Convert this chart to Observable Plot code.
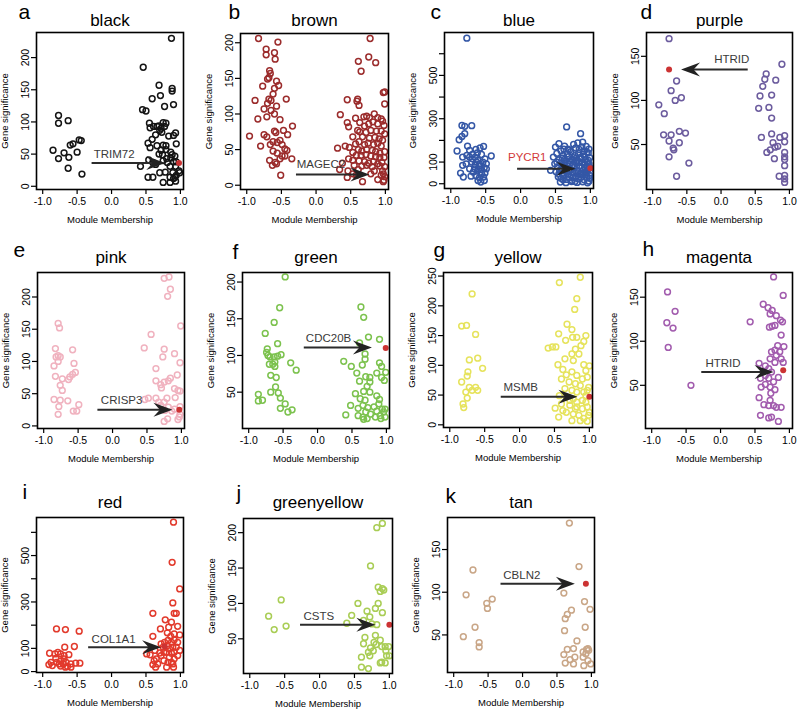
<!DOCTYPE html>
<html><head><meta charset="utf-8">
<script src="https://cdn.jsdelivr.net/npm/d3@7"></script>
<script src="https://cdn.jsdelivr.net/npm/@observablehq/plot@0.6"></script>
<style>
html,body{margin:0;padding:0;background:#fff;}
#chart{position:relative;width:800px;height:711px;overflow:hidden;background:#fff;}
#chart svg{position:absolute;overflow:visible;}
</style></head>
<body><div id="chart"></div>
<script>
// ---------- DATA ----------
const modules = ["black","brown","blue","purple","pink","green","yellow","magenta","red","greenyellow","tan"];
const letters = ["a","b","c","d","e","f","g","h","i","j","k"];
const hubGenes = ["TRIM72","MAGEC2","PYCR1","HTRID","CRISP3","CDC20B","MSMB","HTRID","COL1A1","CSTS","CBLN2"];
const xTicks = [-1, -0.5, 0, 0.5, 1];
const yTicksList = [
  [0,50,100,150,200],[0,50,100,150,200],[0,100,200,300,400,500,600],[50,100,150],
  [0,50,100,150,200],[50,100,150,200],[0,50,100,150,200,250],[50,100,150],
  [0,100,200,300,400,500,600],[50,100,150,200],[50,100,150]
];
const yTickHidden = [[],[],[200,400,600],[],[],[],[],[],[200,400,600],[],[]];
// hub gene (highlighted point): [MM, GS]
const hubPoints = [[0.98,36],null,[1.0,72],[-0.76,135],[0.97,25],[0.99,110],[1.0,47],[0.91,67],[0.77,108],[1.0,70],[0.92,110]];
// arrow from / to (x) at y, label position
const arrowFrom = [-0.29,-0.29,-0.05,0.39,-0.22,-0.20,-0.27,-0.28,-0.34,-0.28,-0.32];
const arrowTo   = [0.78,0.77,0.79,-0.585,0.87,0.79,0.83,0.77,0.72,0.80,0.76];
const arrowY    = [36,15,69,135,25,111,47,65,105,70,110];
const labelX    = [-0.26,-0.28,-0.18,-0.10,-0.17,-0.17,-0.23,-0.22,-0.29,-0.23,-0.28];
const labelY    = [50,30,120,147,40,123,63,75,141,82,120];

const blackPts = [[-0.77,110],[-0.77,98],[-0.63,102],[-0.85,56],[-0.77,43],[-0.69,52],[-0.62,45],[-0.63,28],[-0.60,64],[-0.56,66],[-0.50,53],[-0.47,72],[-0.44,71],[-0.43,19],
[0.87,230],[0.46,185],[0.69,157],[0.88,152],[0.88,148],[0.71,141],[0.59,136],[0.90,127],[0.77,124],[0.45,119],[0.50,117],[0.55,98],[0.75,99],[0.79,98],[0.61,93],[0.66,93],[0.69,94],[0.72,90],[0.77,93],[0.56,91],[0.70,87],[0.73,84],[0.83,78],[0.90,79],[0.93,83],[0.64,80],[0.59,73],[0.53,67],[0.94,66],[0.66,63],[0.75,64],[0.79,63],[0.56,60],[0.72,56],[0.79,57],[0.86,53],[0.69,50],[0.74,49],[0.88,49],[0.92,47],[0.80,43],[0.86,44],[0.75,40],[0.81,37],[0.90,38],[0.94,38],[0.54,41],[0.60,37],[0.64,34],[0.42,31],[0.85,31],[0.93,31],[0.98,24],[0.99,21],[0.70,21],[0.78,22],[0.89,21],[0.94,17],[0.53,14],[0.60,14],[0.85,14],[0.90,12],[0.92,14],[0.75,6],[0.85,6],[0.93,8]];

const brownPts = [[-0.83,206],[-0.55,201],[-0.72,191],[-0.60,186],[-0.72,183],[-0.59,177],[-0.67,161],[-0.66,157],[-0.68,151],[-0.70,149],[-0.57,146],[-0.54,140],[-0.77,139],[-0.60,136],[-0.62,128],[-0.43,121],[-0.88,119],[-0.68,121],[-0.65,119],[-0.70,115],[-0.75,107],[-0.57,111],[-0.65,105],[-0.60,100],[-0.71,96],[-0.52,92],[-0.84,93],[-0.34,83],[-0.60,76],[-0.47,77],[-0.58,74],[-0.75,71],[-0.71,68],[-0.96,69],[-0.41,71],[-0.52,63],[-0.56,60],[-0.62,61],[-0.49,57],[-0.66,57],[-0.80,55],[-0.45,51],[-0.42,49],[-0.62,48],[-0.56,45],[-0.45,41],[-0.49,41],[-0.52,37],[-0.35,37],[-0.67,35],[-0.59,32],[-0.63,28],[-0.57,30],[-0.51,14],
[0.78,206],[0.76,180],[0.61,174],[0.86,172],[0.65,160],[0.99,131],[0.97,130],[0.99,114],[0.45,120],[0.60,121],[0.59,118],[0.62,112],[0.35,99],[0.45,88],[0.57,94],[0.69,96],[0.73,97],[0.77,95],[0.84,100],[0.89,95],[0.94,93],[0.96,90],[0.63,88],[0.70,83],[0.76,86],[0.47,82],[0.82,89],[0.89,86],[0.98,84],[0.60,77],[0.63,75],[0.72,74],[0.79,77],[0.87,76],[0.94,76],[0.99,72],[0.53,68],[0.67,68],[0.77,66],[0.85,67],[0.91,65],[0.96,63],[0.57,58],[0.62,61],[0.70,57],[0.75,59],[0.83,57],[0.89,59],[0.94,55],[0.42,55],[0.48,53],[0.61,50],[0.66,48],[0.73,50],[0.81,49],[0.86,47],[0.92,45],[0.99,47],[0.31,52],[0.53,46],[0.58,42],[0.65,42],[0.72,43],[0.79,41],[0.86,40],[0.92,39],[0.98,39],[0.47,37],[0.53,35],[0.62,34],[0.70,33],[0.76,31],[0.83,33],[0.89,30],[0.95,32],[0.38,31],[0.55,28],[0.66,27],[0.73,28],[0.81,26],[0.92,27],[0.99,26],[0.34,22],[0.46,20],[0.61,22],[0.84,20],[0.96,20],[0.97,16],[0.99,12],[0.94,14],[0.98,7],[0.97,5],[0.89,8],[0.67,5],[0.45,11],[0.58,14],[0.79,16],[0.53,16]];

const bluePts = [[-0.77,672],[-0.84,269],[-0.80,265],[-0.70,268],[-0.88,203],[-0.84,218],[-0.80,231],[-0.91,151],[-0.76,174],[-0.83,123],[-0.77,131],[-0.73,154],[-0.64,158],[-0.58,165],[-0.53,172],[-0.69,135],[-0.62,142],[-0.56,135],[-0.42,128],[-0.51,115],[-0.61,108],[-0.70,100],[-0.78,92],[-0.83,85],[-0.65,88],[-0.58,82],[-0.52,74],[-0.73,69],[-0.86,49],[-0.68,54],[-0.62,58],[-0.56,46],[-0.51,49],[-0.82,31],[-0.71,35],[-0.59,28],[-0.53,31],[-0.57,8],[-0.65,123],[-0.63,100],[-0.69,115],[-0.59,92],[-0.54,100],[-0.73,123],[-0.66,69],[-0.60,69],[-0.56,66],[-0.49,69],[-0.49,92],[-0.64,38],[-0.52,15],[-0.61,15],
[0.66,262],[0.86,231],[0.50,169],[0.55,185],[0.63,174],[0.76,182],[0.82,188],[0.89,192],[0.94,172],[0.47,123],[0.43,62],[0.52,140],[0.58,152],[0.61,131],[0.68,160],[0.72,148],[0.79,165],[0.84,158],[0.91,150],[0.97,142],[0.99,120],[0.55,110],[0.60,118],[0.64,102],[0.69,125],[0.74,112],[0.78,130],[0.81,108],[0.86,122],[0.90,135],[0.93,110],[0.96,98],[0.49,92],[0.53,78],[0.57,95],[0.62,85],[0.66,72],[0.70,92],[0.75,88],[0.80,95],[0.84,82],[0.88,98],[0.92,88],[0.95,80],[0.98,92],[0.51,55],[0.56,62],[0.60,48],[0.64,58],[0.68,45],[0.72,65],[0.77,52],[0.82,60],[0.86,48],[0.90,62],[0.94,55],[0.97,68],[1.00,50],[0.54,32],[0.58,25],[0.62,38],[0.66,20],[0.70,30],[0.74,15],[0.79,35],[0.83,22],[0.87,30],[0.91,18],[0.95,28],[0.98,12],[0.57,8],[0.65,5],[0.73,10],[0.81,6],[0.89,9],[0.96,4],[0.99,25],[0.93,40],[0.85,42],[0.77,75],[0.71,105],[0.67,138],[0.59,70],[0.63,112],[0.76,120],[0.88,75],[0.92,125],[0.97,108],[0.99,75],[0.95,145],[0.83,140],[0.73,40],[0.61,18],[0.69,60],[0.78,10],[0.87,115],[0.93,70],[0.99,38],[0.80,118],[0.84,102],[0.90,45],[0.96,55],[0.75,28],[0.67,95],[0.55,45],[0.52,100],[0.70,155],[0.62,160],[0.98,160],[0.88,170],[0.82,50],[0.74,82]];

const purplePts = [[-0.76,170],[-0.65,122],[-0.73,111],[-0.67,100],[-0.58,103],[-0.91,95],[-0.83,85],[-0.84,61],[-0.73,61],[-0.61,65],[-0.52,63],[-0.76,54],[-0.61,52],[-0.70,46],[-0.69,44],[-0.76,36],[-0.47,29],[-0.65,14],
[0.89,141],[0.66,130],[0.64,124],[0.80,123],[0.61,116],[0.74,106],[0.57,105],[0.55,91],[0.70,92],[0.74,80],[0.59,58],[0.74,62],[0.76,52],[0.86,58],[0.93,60],[0.93,53],[0.83,48],[0.79,47],[0.72,44],[0.67,41],[0.78,34],[0.93,41],[0.93,36],[0.93,33],[0.93,26],[0.85,14],[0.93,15],[0.93,11],[0.93,7]];

const pinkPts = [[-0.79,159],[-0.77,152],[-0.83,120],[-0.82,107],[-0.79,109],[-0.76,107],[-0.79,100],[-0.85,93],[-0.58,118],[-0.56,97],[-0.54,83],[-0.58,80],[-0.62,76],[-0.64,72],[-0.83,77],[-0.73,73],[-0.76,63],[-0.73,55],[-0.85,41],[-0.76,40],[-0.65,39],[-0.78,30],[-0.79,18],[-0.57,23],[-0.52,23],[-0.49,33],
[0.75,229],[0.82,231],[0.84,212],[0.80,201],[0.99,155],[0.56,142],[0.46,121],[0.75,119],[0.90,112],[0.73,107],[0.98,98],[0.63,89],[0.94,79],[0.63,70],[0.75,68],[0.81,70],[0.70,64],[0.84,74],[0.71,59],[0.90,58],[0.95,55],[0.98,54],[0.91,44],[0.47,41],[0.52,43],[0.63,43],[0.79,43],[0.67,37],[0.75,37],[0.70,32],[0.81,29],[0.98,30],[0.76,24],[0.86,23],[0.90,26],[0.98,18],[0.97,14],[0.95,10],[0.75,7],[0.80,11]];

const greenPts = [[-0.47,207],[-0.55,165],[-0.63,145],[-0.76,130],[-0.58,116],[-0.73,109],[-0.74,104],[-0.72,100],[-0.69,98],[-0.63,98],[-0.58,99],[-0.53,101],[-0.39,90],[-0.31,80],[-0.62,91],[-0.65,88],[-0.70,88],[-0.62,85],[-0.68,73],[-0.60,70],[-0.61,57],[-0.57,49],[-0.68,50],[-0.54,42],[-0.86,47],[-0.86,38],[-0.80,39],[-0.47,34],[-0.54,28],[-0.43,23],[-0.37,26],
[0.63,166],[0.67,152],[0.74,125],[0.90,122],[0.61,117],[0.38,92],[0.49,85],[0.69,102],[0.69,95],[0.65,87],[0.90,90],[0.93,85],[0.99,77],[0.86,76],[0.76,70],[0.70,71],[0.57,76],[0.61,65],[0.76,64],[0.93,70],[0.97,66],[0.72,58],[0.67,51],[0.76,50],[0.55,48],[0.86,45],[0.90,40],[0.62,41],[0.69,39],[0.48,32],[0.59,28],[0.66,32],[0.73,29],[0.82,30],[0.89,34],[0.94,27],[0.98,27],[0.96,23],[0.70,23],[0.77,20],[0.86,24],[0.66,16],[0.72,14],[0.84,16],[0.92,14],[0.98,16],[0.41,19],[0.59,18],[0.67,13],[0.91,18]];

const yellowPts = [[-0.68,220],[-0.83,166],[-0.76,167],[-0.63,152],[-0.72,109],[-0.60,112],[-0.53,95],[-0.74,89],[-0.83,72],[-0.75,82],[-0.63,63],[-0.68,58],[-0.60,58],[-0.77,55],[-0.75,45],[-0.81,35],[-0.80,29],[-0.72,63],
[0.57,239],[0.87,248],[0.82,212],[0.79,194],[0.68,169],[0.75,160],[0.56,153],[0.66,142],[0.76,147],[0.82,147],[0.95,150],[0.92,140],[0.88,133],[0.41,129],[0.47,131],[0.52,131],[0.80,127],[0.75,119],[0.85,119],[0.65,111],[0.77,108],[0.55,101],[0.92,101],[1.00,99],[0.95,91],[0.62,93],[0.67,84],[0.75,89],[0.82,83],[0.90,77],[0.97,80],[0.60,77],[0.71,72],[0.80,69],[0.87,66],[0.99,63],[0.65,61],[0.75,58],[0.82,55],[0.92,55],[0.97,58],[0.57,49],[0.67,47],[0.77,44],[0.90,41],[0.95,38],[0.51,28],[0.60,35],[0.72,33],[0.82,30],[0.90,27],[0.97,30],[0.56,13],[0.67,21],[0.77,18],[0.85,16],[0.92,11],[0.99,16],[0.75,7],[0.87,7],[0.97,6],[1.00,21],[0.62,24],[0.82,38],[0.95,49],[0.72,41],[0.80,27]];

const magentaPts = [[-0.77,156],[-0.66,134],[-0.78,121],[-0.69,115],[-0.76,93],[-0.43,50],
[0.77,173],[0.91,152],[0.43,122],[0.62,142],[0.69,138],[0.75,135],[0.72,131],[0.81,129],[0.87,124],[0.90,122],[0.79,118],[0.71,116],[0.75,117],[0.88,107],[0.83,95],[0.92,94],[0.79,90],[0.74,88],[0.86,88],[0.81,84],[0.88,80],[0.72,80],[0.79,76],[0.91,76],[0.56,75],[0.65,72],[0.70,69],[0.74,65],[0.65,61],[0.58,58],[0.70,58],[0.77,54],[0.84,59],[0.59,48],[0.65,51],[0.72,48],[0.79,45],[0.73,41],[0.63,28],[0.70,27],[0.77,27],[0.81,25],[0.88,25],[0.56,36],[0.72,33],[0.58,16],[0.70,13],[0.74,14],[0.84,9]];

const redPts = [[-0.80,184],[-0.67,181],[-0.47,174],[-0.54,108],[-0.68,105],[-0.90,79],[-0.82,76],[-0.78,83],[-0.74,76],[-0.69,69],[-0.62,73],[-0.88,40],[-0.91,30],[-0.80,40],[-0.74,45],[-0.70,33],[-0.66,40],[-0.59,33],[-0.64,22],[-0.74,24],[-0.52,36],[-0.46,36],[-0.81,57],[-0.69,55],[-0.76,33],[-0.67,19],[-0.59,19],[-0.86,26],
[0.90,644],[0.88,471],[0.99,356],[0.89,296],[0.60,251],[0.91,251],[0.94,251],[0.78,223],[0.71,184],[0.83,191],[0.96,195],[0.87,213],[0.60,152],[0.99,158],[0.81,167],[0.91,162],[0.51,76],[0.56,72],[0.62,47],[0.60,30],[0.65,55],[0.70,80],[0.75,105],[0.77,126],[0.82,134],[0.87,126],[0.91,137],[0.96,126],[0.81,112],[0.84,98],[0.89,105],[0.94,105],[0.99,91],[0.80,83],[0.87,79],[0.91,83],[0.96,69],[0.84,62],[0.91,55],[0.87,40],[0.72,69],[0.76,47],[0.82,40],[0.89,33],[0.67,33],[0.64,19],[0.80,19],[0.90,19],[0.76,83],[0.72,119],[0.86,152],[0.63,91]];

const greenyellowPts = [[-0.73,82],[-0.55,105],[-0.65,63],[-0.48,68],
[0.82,207],[0.90,213],[0.73,153],[0.84,123],[0.90,121],[0.92,119],[0.87,117],[0.55,100],[0.84,100],[0.80,93],[0.90,87],[0.46,83],[0.39,72],[0.68,89],[0.72,81],[0.63,76],[0.75,71],[0.82,70],[0.65,52],[0.80,55],[0.87,48],[0.78,45],[0.81,42],[0.63,43],[0.73,37],[0.89,39],[0.94,39],[0.99,39],[0.77,33],[0.70,31],[0.72,26],[0.95,33],[1.00,26],[0.96,26],[0.60,24],[0.87,16],[0.89,17],[0.94,16],[0.60,10],[0.70,8]];

const tanPts = [[-0.72,126],[-0.82,97],[-0.52,87],[-0.44,92],[-0.51,81],[-0.69,59],[-0.86,48],[-0.63,41],[-0.63,36],
[0.68,181],[0.82,130],[0.60,99],[0.90,89],[0.98,80],[0.71,79],[0.65,74],[0.62,69],[0.91,59],[0.61,55],[0.79,43],[0.74,34],[0.65,33],[0.93,33],[0.95,34],[0.96,32],[0.88,30],[0.92,28],[0.60,27],[0.76,24],[0.88,24],[0.69,21],[0.62,17],[0.74,16],[0.95,20],[0.99,16],[0.89,14]];

const modulePoints = [blackPts,brownPts,bluePts,purplePts,pinkPts,greenPts,yellowPts,magentaPts,redPts,greenyellowPts,tanPts];

// ---------- LAYOUT / STYLE ----------
const colors = ["#141414","#9b2c2c","#3457a6","#6c5c9e","#f0b2bf","#7cc24e","#e6e35c","#a25cae","#e23a2c","#a9cd55","#c9a687"];
const hubColor = "#cc3333";
const frames = [ // left, top, right, bottom (px)
  [36,32,183,189],[240,33,388,189],[444,32,593,188],[646,32,792,189],
  [37,272,184,428],[242,272,389,428],[443,272,592,427],[645,272,792,428],
  [36,517,183,672],[243,518,392,673],[447,517,594,672]
];
const yDomains = [[-5,239],[-6,213],[-22,698],[-1,177],[-4,238],[0.5,213],[-4.5,256],[1,178],[-4,664],[1,220],[6,187.5]];
const titleDy = [-7,-8,-7,-7,-10,-10,-10,-10,-10,-11,-10];
const letterOff = [[-18,-14],[-12,-15],[-14,-14],[-6,-14],[-24,-16],[-10,-14],[-10,-16],[-3,-17],[-14,-19],[-7,-19],[-2,-15]];
const font = "'Liberation Sans', Arial, Helvetica, sans-serif";

// notched arrowhead pointing right, tip at origin
const arrowHead = {draw(ctx){ ctx.moveTo(0,0); ctx.lineTo(-19,-7); ctx.lineTo(-12.5,0); ctx.lineTo(-19,7); ctx.closePath(); }};

const mL = 44, mR = 8, mT = 40, mB = 48;
const chart = document.getElementById("chart");

modules.forEach((name, i) => {
  const [fl, ft, fr, fb] = frames[i];
  const pts = modulePoints[i].map(([mm, gs]) => ({mm, gs}));
  const hub = hubPoints[i] ? [{mm: hubPoints[i][0], gs: hubPoints[i][1]}] : [];
  const arrow = [{x1: arrowFrom[i], x2: arrowTo[i], y: arrowY[i], left: arrowTo[i] < arrowFrom[i]}];
  const hidden = yTickHidden[i];
  const plot = Plot.plot({
    width: (fr - fl) + mL + mR,
    height: (fb - ft) + mT + mB,
    marginLeft: mL, marginRight: mR, marginTop: mT, marginBottom: mB,
    style: {fontFamily: font, fontSize: "10px", background: "transparent", color: "#000"},
    x: {domain: [-1.09, 1.045]},
    y: {domain: yDomains[i]},
    marks: [
      Plot.axisX({ticks: xTicks, tickFormat: d => d.toFixed(1), tickSize: 5, tickPadding: 3, strokeWidth: 1.2,
        label: null, fontSize: 10.5}),
      Plot.axisX({ticks: [], label: "Module Membership", labelAnchor: "center", labelOffset: 33, labelArrow: "none", fontSize: 9.5}),
      Plot.axisY({ticks: yTicksList[i], tickFormat: d => hidden.includes(d) ? "" : String(d), tickSize: 5, tickPadding: 3, tickRotate: -90, strokeWidth: 1.2,
        label: null, fontSize: 10.5}),
      Plot.axisY({ticks: [], label: "Gene significance", labelAnchor: "center", labelOffset: 35, labelArrow: "none", fontSize: 9.5}),
      Plot.dot(pts, {x: "mm", y: "gs", r: 2.9, stroke: colors[i], strokeWidth: 1.5, fill: "none"}),
      Plot.dot(hub, {x: "mm", y: "gs", r: 3, fill: hubColor}),
      Plot.link(arrow, {x1: "x1", x2: d => d.x2 + (d.left ? 0.12 : -0.12), y1: "y", y2: "y", stroke: "#2b2b2b", strokeWidth: 2}),
      Plot.dot(arrow, {x: "x2", y: "y", symbol: arrowHead, fill: "#222", stroke: "none", rotate: d => d.left ? 180 : 0}),
      Plot.text([hubGenes[i]], {x: labelX[i], y: labelY[i], text: d => d, textAnchor: "start", fontSize: 11.5, fill: i === 2 ? "#d2393a" : "#3a3a3a"}),
      Plot.frame({stroke: "#000", strokeWidth: 1.6}),
      Plot.text([name], {frameAnchor: "top", dy: titleDy[i], lineAnchor: "bottom", fontSize: 17, fill: "#000"}),
      Plot.text([letters[i]], {frameAnchor: "top-left", dx: letterOff[i][0], dy: letterOff[i][1], textAnchor: "start", lineAnchor: "bottom", fontSize: 21, fill: "#000"})
    ]
  });
  plot.style.left = (fl - mL) + "px";
  plot.style.top = (ft - mT) + "px";
  chart.appendChild(plot);
});
</script>
</body></html>
